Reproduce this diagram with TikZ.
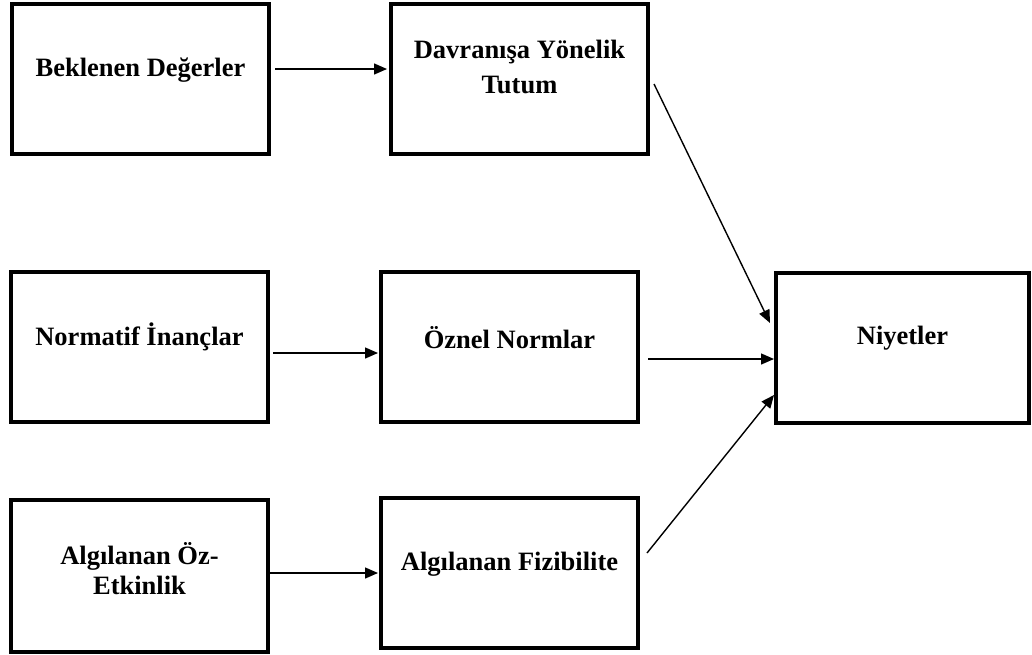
\documentclass[tikz,border=0pt]{standalone}
\usepackage{fontspec}
\setmainfont{Liberation Serif}
\usetikzlibrary{arrows.meta}
\begin{document}
\begin{tikzpicture}[x=1pt,y=-1pt,
  box/.style={draw, line width=4pt, minimum width=257pt, minimum height=150pt, inner sep=0pt},
  lbl/.style={font=\bfseries\fontsize{26.5}{35}\selectfont, align=center, inner sep=0pt},
  arr/.style={line width=1.4pt, -{Triangle[length=13pt,width=11pt]}}]
\useasboundingbox (0,0) rectangle (1032,654);
\node[box] (b1) at (140.5,79) {};
\node[box] (b2) at (519.5,78.5) {};
\node[box] (b3) at (139.5,347) {};
\node[box] (b4) at (509.5,347) {};
\node[box, minimum height=152pt] (b5) at (139.5,576) {};
\node[box] (b6) at (509.5,573) {};
\node[box, minimum width=253pt] (b7) at (902.5,348) {};
\node[lbl] (t1) at (140.5,70) {Beklenen Değerler};
\node[lbl] (t2) at (519.5,66.5) {Davranışa Yönelik\\Tutum};
\node[lbl] (t3) at (139.5,337) {Normatif İnançlar};
\node[lbl] (t4) at (509.5,338) {Öznel Normlar};
\node[lbl, font=\bfseries\fontsize{26.5}{30}\selectfont] (t5) at (139.5,569) {Algılanan Öz-\\Etkinlik};
\node[lbl] (t6) at (509.5,564) {Algılanan Fizibilite};
\node[lbl] (t7) at (902.5,338) {Niyetler};
\draw[arr] ([shift={(4,-10)}]b1.east) -- ([shift={(-2,-9.5)}]b2.west);
\draw[arr] ([shift={(3,6)}]b3.east) -- ([shift={(-1,6)}]b4.west);
\draw[arr] ([shift={(0,-3)}]b5.east) -- ([shift={(-1,0)}]b6.west);
\draw[arr] ([shift={(8,12)}]b4.east) -- ([shift={(0,11)}]b7.west);
\draw[arr] ([shift={(4,5.5)}]b2.east) -- ([shift={(-4,-25)}]b7.west);
\draw[arr] ([shift={(7,-20)}]b6.east) -- ([shift={(0,47)}]b7.west);
\end{tikzpicture}
\end{document}
